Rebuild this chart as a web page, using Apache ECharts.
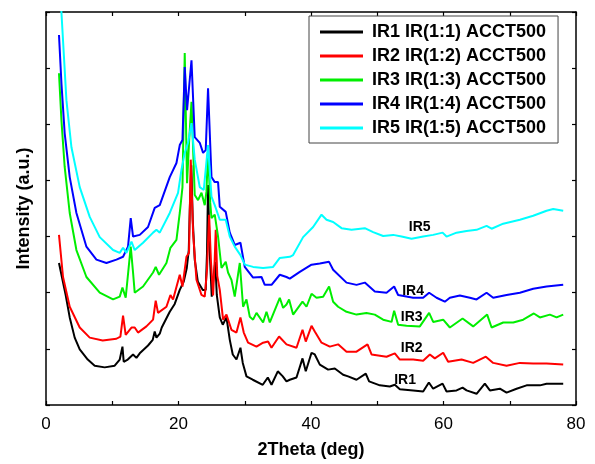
<!DOCTYPE html>
<html>
<head>
<meta charset="utf-8">
<script src="https://cdn.jsdelivr.net/npm/echarts@6/dist/echarts.min.js"></script>
<style>
html,body{margin:0;padding:0;background:#fff;}
#chart{width:595px;height:464px;}
</style>
</head>
<body>
<div id="chart"></div>
<script>
var seriesNames = ['IR1 IR(1:1) ACCT500','IR2 IR(1:2) ACCT500','IR3 IR(1:3) ACCT500','IR4 IR(1:4) ACCT500','IR5 IR(1:5) ACCT500'];
var curveLabels = ['IR1','IR2','IR3','IR4','IR5'];
var curveLabelX = [54.2, 55.2, 55.2, 55.4, 56.4];
var curveLabelY = [0.44, 1.02, 1.56, 2.02, 3.16];
var xTicks = [0, 20, 40, 60, 80];

var ir1 = [[1.96,2.53],[2.97,1.96],[3.58,1.56],[4.33,1.20],[5.09,0.99],[6.30,0.81],[7.35,0.70],[8.86,0.67],[10.37,0.70],[11.13,0.81],[11.54,1.04],[11.73,0.77],[12.34,0.81],[13.14,0.90],[13.65,0.84],[14.15,0.92],[15.40,1.06],[16.11,1.16],[16.41,1.31],[16.67,1.20],[17.17,1.27],[17.47,1.38],[18.68,1.66],[19.43,1.80],[20.19,2.05],[20.79,2.20],[21.25,2.44],[21.55,2.76],[21.70,3.47],[21.93,4.27],[22.15,3.30],[22.45,2.59],[22.91,2.20],[23.66,2.05],[24.11,2.05],[24.30,2.70],[24.46,3.92],[24.70,2.76],[25.02,1.93],[25.32,2.32],[25.55,2.55],[25.78,1.96],[26.23,1.56],[26.68,1.43],[27.24,1.56],[27.74,1.16],[28.19,0.90],[28.75,0.81],[29.35,1.02],[29.70,0.75],[30.26,0.51],[31.21,0.45],[32.72,0.36],[33.48,0.49],[34.04,0.36],[34.99,0.60],[35.74,0.51],[36.30,0.42],[36.80,0.45],[37.81,0.49],[38.72,0.83],[39.21,0.60],[40.08,0.93],[40.57,0.90],[41.33,0.72],[42.58,0.63],[43.59,0.65],[44.85,0.54],[45.60,0.51],[46.87,0.45],[48.27,0.56],[48.77,0.42],[50.39,0.35],[51.90,0.33],[52.65,0.36],[53.41,0.28],[55.42,0.26],[56.93,0.24],[57.79,0.40],[58.44,0.29],[59.86,0.38],[60.46,0.24],[61.97,0.26],[62.88,0.31],[63.48,0.26],[64.99,0.20],[66.24,0.38],[67.00,0.26],[68.51,0.29],[69.52,0.22],[71.03,0.29],[72.54,0.35],[74.55,0.35],[75.56,0.38],[78.07,0.38]];

var ir2 = [[1.96,3.03],[2.57,2.28],[3.58,1.75],[5.09,1.38],[6.60,1.20],[8.56,1.15],[10.63,1.18],[11.23,1.22],[11.63,1.59],[12.03,1.25],[12.90,1.38],[13.39,1.38],[13.89,1.29],[15.16,1.40],[16.16,1.52],[16.56,1.86],[16.91,1.64],[18.18,1.75],[18.78,1.96],[19.18,1.88],[20.19,2.32],[20.60,2.11],[21.20,2.64],[21.59,2.71],[21.85,4.37],[22.20,3.07],[22.71,2.23],[23.47,1.96],[23.96,1.93],[24.30,2.40],[24.62,3.39],[24.90,2.55],[25.22,1.95],[25.47,2.60],[25.62,3.12],[25.85,2.30],[26.23,2.05],[26.73,1.52],[27.24,1.61],[27.99,1.34],[28.75,1.29],[29.35,1.56],[29.85,1.29],[30.50,1.11],[31.77,1.04],[32.77,1.11],[33.52,1.13],[34.04,1.02],[35.18,1.22],[36.30,1.08],[37.81,1.02],[38.72,1.34],[39.21,1.13],[40.08,1.41],[40.57,1.31],[41.59,1.11],[42.84,1.04],[44.09,1.08],[45.36,0.95],[46.87,0.95],[48.53,1.08],[49.14,0.90],[51.40,0.86],[52.65,0.92],[53.41,0.81],[55.42,0.81],[56.93,0.79],[57.94,0.90],[58.69,0.83],[59.95,0.93],[60.70,0.77],[62.73,0.81],[64.48,0.75],[66.39,0.86],[67.50,0.75],[69.52,0.70],[71.53,0.75],[73.54,0.74],[75.56,0.74],[78.07,0.72]];

var ir3 = [[1.96,5.91],[2.33,5.07],[2.82,4.24],[3.58,3.42],[4.59,2.76],[6.10,2.28],[8.11,2.00],[10.12,1.88],[11.13,1.93],[11.54,2.09],[12.03,1.91],[12.79,2.82],[13.14,2.36],[13.39,2.00],[14.65,2.11],[16.16,2.36],[16.56,2.46],[17.06,2.32],[18.18,2.53],[18.78,2.80],[19.69,2.94],[20.19,3.42],[20.60,3.88],[20.94,6.27],[21.29,3.95],[21.59,4.67],[21.96,5.40],[22.45,3.74],[22.95,3.65],[23.47,3.78],[23.96,3.56],[24.22,3.80],[24.46,4.54],[24.79,3.60],[24.98,3.33],[25.47,3.39],[25.97,3.00],[26.49,2.44],[27.13,2.55],[27.48,2.36],[27.99,2.23],[28.49,1.93],[29.25,2.53],[29.75,1.75],[30.26,1.88],[30.76,1.57],[31.26,1.52],[31.77,1.64],[32.77,1.47],[33.28,1.66],[33.78,1.47],[35.29,1.91],[35.79,1.73],[36.30,1.79],[36.69,1.88],[37.30,1.61],[38.72,1.84],[39.32,1.75],[40.08,1.98],[40.83,1.91],[41.83,1.93],[42.73,2.11],[43.34,1.84],[44.09,1.75],[45.36,1.66],[46.87,1.61],[48.38,1.64],[49.63,1.61],[50.89,1.52],[52.16,1.48],[52.55,1.68],[53.15,1.43],[54.42,1.41],[56.43,1.40],[57.83,1.64],[58.44,1.48],[59.95,1.52],[60.96,1.38],[62.88,1.54],[64.48,1.40],[66.59,1.61],[67.26,1.38],[69.01,1.47],[70.53,1.47],[72.03,1.52],[73.64,1.63],[74.55,1.56],[76.06,1.61],[77.07,1.56],[78.07,1.61]];

var ir4 = [[1.96,6.59],[2.33,5.73],[2.82,4.84],[3.58,4.06],[4.59,3.42],[6.10,2.82],[7.61,2.59],[9.12,2.53],[10.63,2.59],[11.63,2.64],[12.38,2.82],[12.79,3.33],[13.14,3.00],[14.15,3.03],[15.40,3.17],[16.41,3.51],[17.17,3.56],[18.68,4.06],[19.69,4.31],[20.19,4.63],[20.60,4.72],[20.94,6.02],[21.29,5.25],[21.96,6.14],[22.45,4.77],[23.21,4.67],[23.71,4.49],[24.11,4.54],[24.46,5.64],[24.98,4.06],[25.47,3.97],[25.97,3.97],[26.23,3.53],[27.13,3.44],[27.74,3.07],[28.49,2.85],[29.35,2.89],[30.00,2.46],[31.26,2.27],[32.53,2.28],[33.02,2.14],[34.04,2.14],[35.29,2.32],[36.30,2.28],[36.80,2.25],[38.31,2.37],[40.08,2.50],[41.33,2.52],[42.73,2.55],[43.34,2.41],[45.36,2.18],[46.87,2.14],[48.12,2.18],[49.63,2.02],[51.40,2.00],[52.55,2.11],[53.15,1.96],[55.42,1.91],[56.93,1.91],[57.83,2.00],[58.95,1.91],[60.20,1.84],[60.96,1.91],[62.47,1.95],[63.98,1.91],[64.99,1.88],[66.50,2.00],[67.50,1.91],[69.52,1.96],[71.53,2.00],[73.54,2.07],[75.56,2.11],[78.07,2.14]];

var ir5 = [[2.25,7.20],[2.33,6.99],[3.08,5.43],[3.84,4.59],[5.09,3.88],[6.60,3.35],[8.11,2.99],[10.12,2.76],[11.13,2.71],[11.63,2.80],[12.14,2.71],[12.90,2.91],[13.39,2.76],[14.65,2.89],[16.16,3.07],[16.67,3.12],[17.17,3.07],[18.68,3.42],[19.93,3.78],[20.45,4.19],[20.94,4.49],[21.44,4.67],[21.96,5.02],[22.45,4.37],[23.21,3.88],[23.81,3.83],[24.46,4.63],[24.98,3.71],[25.47,3.56],[26.23,3.30],[27.13,3.30],[27.74,3.00],[28.49,2.82],[29.35,2.67],[30.00,2.50],[31.26,2.46],[32.77,2.44],[34.28,2.46],[35.29,2.62],[36.80,2.64],[37.30,2.67],[38.81,2.99],[40.32,3.17],[41.59,3.39],[42.34,3.30],[43.34,3.26],[44.61,3.15],[46.12,3.12],[48.12,3.15],[49.38,3.08],[50.89,3.01],[52.40,3.03],[53.67,3.00],[55.18,2.96],[56.93,3.00],[58.44,3.03],[59.86,3.07],[60.46,3.00],[61.97,3.07],[63.48,3.10],[64.99,3.12],[66.50,3.19],[67.26,3.14],[69.01,3.23],[71.53,3.30],[73.54,3.37],[75.56,3.46],[76.56,3.49],[78.07,3.46]];

var colors = ['#000000','#ff0000','#00ee00','#0000ff','#00ffff'];
var allData = [ir1, ir2, ir3, ir4, ir5];
var FONT = '"Liberation Sans", Arial, sans-serif';

var chart = echarts.init(document.getElementById('chart'), null, {renderer:'canvas'});

function axisCommon(show) {
  return {
    axisLine: {show: true, onZero: false, lineStyle: {color: '#000', width: 1.5}},
    axisTick: {show: true, inside: true, length: 4, lineStyle: {color: '#000', width: 1.2}},
    splitLine: {show: false},
    axisLabel: {show: show}
  };
}

var series = allData.map(function (d, i) {
  return {
    name: seriesNames[i],
    type: 'line',
    data: d,
    showSymbol: false,
    symbol: 'none',
    clip: true,
    lineStyle: {color: colors[i], width: 2},
    itemStyle: {color: colors[i]},
    z: 2 + i
  };
});

var xBottom = Object.assign(axisCommon(true), {
  type: 'value', position: 'bottom', min: 0, max: 80, interval: 10,
  name: '2Theta (deg)', nameLocation: 'middle', nameGap: 36,
  nameTextStyle: {fontFamily: FONT, fontWeight: 'bold', fontSize: 18, color: '#000'}
});
xBottom.axisLabel = {show: true, margin: 11, fontFamily: FONT, fontSize: 17, color: '#000',
  formatter: function (v) { return xTicks.indexOf(v) >= 0 ? String(v) : ''; }};
var xTop = Object.assign(axisCommon(false), {type: 'value', position: 'top', min: 0, max: 80, interval: 10});

var yLeft = Object.assign(axisCommon(false), {
  type: 'value', position: 'left', min: 0, max: 7, interval: 1,
  name: 'Intensity (a.u.)', nameLocation: 'middle', nameGap: 13,
  nameTextStyle: {fontFamily: FONT, fontWeight: 'bold', fontSize: 18, color: '#000'}
});
var yRight = Object.assign(axisCommon(false), {type: 'value', position: 'right', min: 0, max: 7, interval: 1});

chart.setOption({
  animation: false,
  backgroundColor: '#fff',
  grid: {left: 46, right: 19, top: 12, bottom: 58, containLabel: false},
  xAxis: [xBottom, xTop],
  yAxis: [yLeft, yRight],
  legend: {
    show: true,
    orient: 'vertical',
    left: 309, top: 16,
    padding: [7, 12, 6, 11],
    itemGap: 6,
    itemWidth: 43, itemHeight: 3,
    icon: 'rect',
    backgroundColor: '#fff',
    borderColor: '#444', borderWidth: 1, borderRadius: 0,
    textStyle: {fontFamily: FONT, fontWeight: 'bold', fontSize: 18, color: '#000', padding: [0,0,0,4]},
    data: seriesNames
  },
  series: series
});

var labelGraphics = curveLabels.map(function (t, i) {
  var p = chart.convertToPixel({gridIndex: 0}, [curveLabelX[i], curveLabelY[i]]);
  return {
    type: 'text', x: p[0], y: p[1], z: 100,
    style: {text: t, fontFamily: FONT, fontWeight: 'bold', fontSize: 14, fill: '#000',
      align: 'center', verticalAlign: 'middle'}
  };
});
chart.setOption({graphic: labelGraphics});
</script>
</body>
</html>
